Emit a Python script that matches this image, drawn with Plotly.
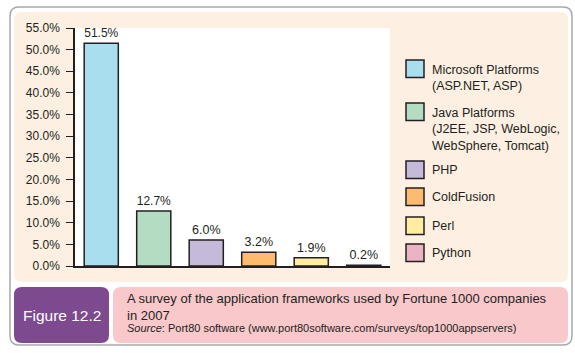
import plotly.graph_objects as go

# ---- data ----
categories = ["Microsoft Platforms<br>(ASP.NET, ASP)",
              "Java Platforms<br>(J2EE, JSP, WebLogic,<br>WebSphere, Tomcat)",
              "PHP", "ColdFusion", "Perl", "Python"]
shares = [51.5, 12.7, 6.0, 3.2, 1.9, 0.2]
colors = ["#A9DEEF", "#B3DCC2", "#C6BADA", "#FDBB70", "#FFEEA2", "#EBB4C5"]
tick_vals = [0, 5, 10, 15, 20, 25, 30, 35, 40, 45, 50, 55]
tick_text = [f"{v:.1f}%" for v in tick_vals]
caption = "A survey of the application frameworks used by Fortune 1000 companies<br>in 2007"
source = "<i>Source</i>: Port80 software (www.port80software.com/surveys/top1000appservers)"
fig_label = "Figure 12.2"

W, H = 575, 353
L, R, T, B = 75, 390, 28, 266  # plot area in pixels


def px(x):
    return (x - L) / (R - L)


def py(y):
    return (B - y) / (B - T)


def rrect(x0, y0, x1, y1, r):
    pts = [
        f"M {px(x0 + r)},{py(y0)}",
        f"L {px(x1 - r)},{py(y0)}",
        f"Q {px(x1)},{py(y0)} {px(x1)},{py(y0 + r)}",
        f"L {px(x1)},{py(y1 - r)}",
        f"Q {px(x1)},{py(y1)} {px(x1 - r)},{py(y1)}",
        f"L {px(x0 + r)},{py(y1)}",
        f"Q {px(x0)},{py(y1)} {px(x0)},{py(y1 - r)}",
        f"L {px(x0)},{py(y0 + r)}",
        f"Q {px(x0)},{py(y0)} {px(x0 + r)},{py(y0)}",
        "Z",
    ]
    return " ".join(pts)


FONT = "Liberation Sans, Arial, sans-serif"
INK = "#231F20"

fig = go.Figure()
fig.add_trace(go.Bar(
    x=list(range(len(shares))), y=shares,
    marker=dict(color=colors, line=dict(color=INK, width=1.5)),
    width=0.65,
    text=[f"{v:.1f}%" for v in shares], textposition="outside",
    textfont=dict(size=12.5, color=INK, family=FONT),
    cliponaxis=False, showlegend=False, hoverinfo="skip",
))

shapes = [
    dict(type="path", path=rrect(10, 7, 572, 345, 9), xref="paper", yref="paper",
         line=dict(color="#A7A9AC", width=1.5), fillcolor="white", layer="below"),
    dict(type="path", path=rrect(14, 12, 568, 282, 8), xref="paper", yref="paper",
         line=dict(width=0), fillcolor="#FDF0E2", layer="below"),
    dict(type="rect", x0=px(L), x1=px(R), y0=py(B), y1=py(T), xref="paper", yref="paper",
         line=dict(width=0), fillcolor="white", layer="below"),
    dict(type="path", path=rrect(14, 287, 109, 343, 8), xref="paper", yref="paper",
         line=dict(width=0), fillcolor="#7D4A8F", layer="below"),
    dict(type="path", path=rrect(113, 287, 568, 343, 8), xref="paper", yref="paper",
         line=dict(width=0), fillcolor="#F8C8CB", layer="below"),
]

annotations = []
# custom legend
sq_tops = [60, 103, 161, 188, 217, 244]
for name, col, top in zip(categories, colors, sq_tops):
    shapes.append(dict(type="rect", xref="paper", yref="paper",
                       x0=px(406), x1=px(424), y0=py(top + 17.5), y1=py(top),
                       fillcolor=col, line=dict(color=INK, width=1.5)))
    nlines = name.count("<br>") + 1
    if nlines == 1:
        annotations.append(dict(x=px(430), y=py(top + 9), xref="paper", yref="paper",
                                text=name, showarrow=False, xanchor="left", yanchor="middle",
                                align="left", font=dict(size=12.5, color=INK, family=FONT)))
    else:
        annotations.append(dict(x=px(430), y=py(top + 1), xref="paper", yref="paper",
                                text=name, showarrow=False, xanchor="left", yanchor="top",
                                align="left", font=dict(size=12.5, color=INK, family=FONT)))

annotations.append(dict(x=px(61.5), y=py(315), xref="paper", yref="paper", text=fig_label,
                        showarrow=False, xanchor="center", yanchor="middle",
                        font=dict(size=15.5, color="white", family=FONT)))
annotations.append(dict(x=px(125), y=py(289), xref="paper", yref="paper", text=caption,
                        showarrow=False, xanchor="left", yanchor="top", align="left",
                        font=dict(size=13, color=INK, family=FONT)))
annotations.append(dict(x=px(125), y=py(328), xref="paper", yref="paper", text=source,
                        showarrow=False, xanchor="left", yanchor="middle", align="left",
                        font=dict(size=11, color=INK, family=FONT)))

fig.update_layout(
    width=W, height=H,
    margin=dict(l=L, r=W - R, t=T, b=H - B, pad=0),
    paper_bgcolor="white", plot_bgcolor="rgba(0,0,0,0)",
    bargap=0.35,
    shapes=shapes, annotations=annotations,
    font=dict(family=FONT, color=INK, size=12),
    xaxis=dict(range=[-0.5, len(shares) - 0.5], showticklabels=False, ticks="",
               showgrid=False, zeroline=False, showline=True, linecolor=INK, linewidth=1.5,
               fixedrange=True),
    yaxis=dict(range=[0, 55], tickmode="array", tickvals=tick_vals, ticktext=tick_text,
               ticks="outside", ticklen=7, tickwidth=1.2, tickcolor=INK,
               ticklabelstandoff=4,
               showgrid=False, zeroline=False, showline=True, linecolor=INK, linewidth=1.5,
               tickfont=dict(size=12, color=INK, family=FONT), fixedrange=True),
)

fig.write_html("out.html")
